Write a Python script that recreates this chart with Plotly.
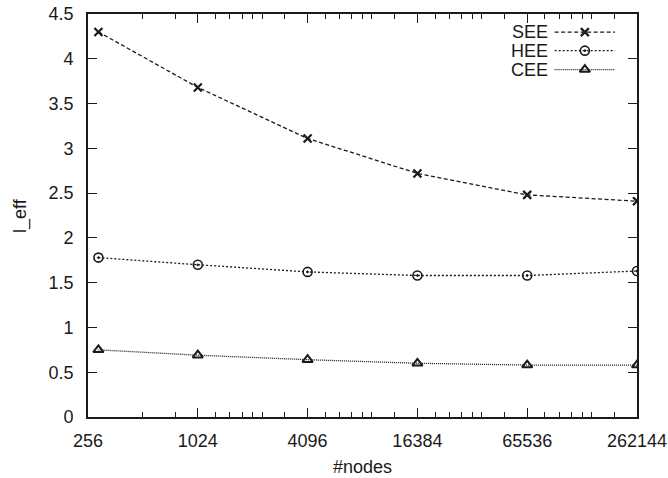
import plotly.graph_objects as go

# Number of nodes (x) and effective values for each estimator
nodes = [292, 1024, 4096, 16384, 65536, 262144]
see = [4.30, 3.68, 3.11, 2.72, 2.48, 2.41]
hee = [1.78, 1.70, 1.62, 1.58, 1.58, 1.63]
cee = [0.75, 0.69, 0.64, 0.60, 0.58, 0.58]

tick_nodes = [256, 1024, 4096, 16384, 65536, 262144]
tick_text = [str(v) for v in tick_nodes]
minor_nodes = [512, 768]
for base in tick_nodes[1:-1]:
    minor_nodes += [base * m for m in (1.25, 1.5, 1.75, 2, 2.25, 3)]

y_ticks = [0, 0.5, 1, 1.5, 2, 2.5, 3, 3.5, 4, 4.5]
y_text = ["0", "0.5", "1", "1.5", "2", "2.5", "3", "3.5", "4", "4.5"]

series = [
    ("SEE", see, "4px,2.5px", "x-thin-open", 8, 2.2),
    ("HEE", hee, "2px,2px", "circle-open-dot", 9, 1.6),
    ("CEE", cee, "1px,1px", "triangle-up-open", 9, 2.0),
]

FONT = "Liberation Sans, Arial, Helvetica, sans-serif"
ink = "#1a1a1a"
FS = 18

fig = go.Figure()
for name, vals, dash, sym, size, mlw in series:
    fig.add_trace(go.Scatter(
        x=nodes, y=vals, mode="lines+markers", name=name, showlegend=False,
        line=dict(color=ink, width=1.3, dash=dash),
        marker=dict(symbol=sym, size=size, color=ink,
                    line=dict(color=ink, width=mlw)),
    ))

# Key in the upper right corner: label on the left, line sample on the right
key_y = [0.955, 0.909, 0.862]
for (name, vals, dash, sym, size, mlw), ky in zip(series, key_y):
    fig.add_trace(go.Scatter(
        x=[0.85, 0.96], y=[ky, ky], xaxis="x2", yaxis="y2", mode="lines",
        showlegend=False, hoverinfo="skip",
        line=dict(color=ink, width=1.3, dash=dash),
    ))
    fig.add_trace(go.Scatter(
        x=[0.905], y=[ky], xaxis="x2", yaxis="y2", mode="markers",
        showlegend=False, hoverinfo="skip",
        marker=dict(symbol=sym, size=size, color=ink,
                    line=dict(color=ink, width=mlw)),
    ))
    fig.add_annotation(
        x=0.842, y=ky, xref="x2", yref="y2", text=name, showarrow=False,
        xanchor="right", yanchor="middle",
        font=dict(family=FONT, size=FS, color=ink),
    )

# Axis titles
fig.add_annotation(x=0.5, y=-0.124, xref="paper", yref="paper", text="#nodes",
                   showarrow=False, xanchor="center", yanchor="middle",
                   font=dict(family=FONT, size=FS, color=ink))
fig.add_annotation(x=-0.123, y=0.5, xref="paper", yref="paper", text="l_eff",
                   showarrow=False, xanchor="center", yanchor="middle",
                   textangle=-90, font=dict(family=FONT, size=FS, color=ink))

fig.update_layout(
    width=668, height=478,
    margin=dict(l=88, r=31, t=14, b=61),
    paper_bgcolor="white", plot_bgcolor="white",
    font=dict(family=FONT, size=FS, color=ink),
    xaxis=dict(
        type="log", range=[2.40824, 5.41854], automargin=False,
        tickmode="array", tickvals=tick_nodes, ticktext=tick_text,
        ticks="inside", ticklen=9, tickwidth=1.3, tickcolor=ink,
        showline=True, linecolor=ink, linewidth=1.8, mirror="allticks",
        showgrid=False, zeroline=False, ticklabelstandoff=6,
        minor=dict(tickmode="array", tickvals=minor_nodes, ticks="inside",
                   ticklen=5, tickwidth=1.1, tickcolor=ink, showgrid=False),
    ),
    yaxis=dict(
        range=[0, 4.5], automargin=False,
        tickmode="array", tickvals=y_ticks, ticktext=y_text,
        ticks="inside", ticklen=9, tickwidth=1.3, tickcolor=ink,
        showline=True, linecolor=ink, linewidth=1.8, mirror="allticks",
        showgrid=False, zeroline=False, ticklabelstandoff=9,
    ),
    xaxis2=dict(overlaying="x", range=[0, 1], visible=False, fixedrange=True),
    yaxis2=dict(overlaying="y", range=[0, 1], visible=False, fixedrange=True),
)

fig.write_html("out.html")
